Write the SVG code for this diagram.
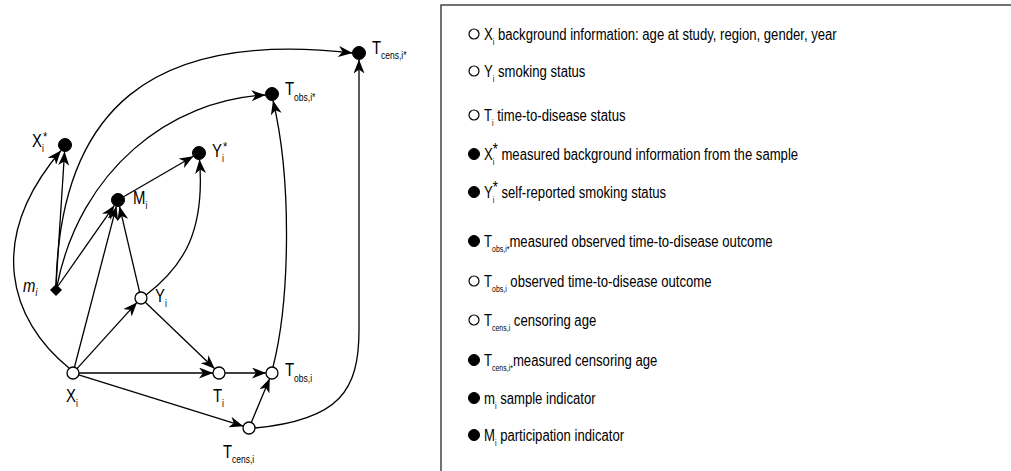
<svg xmlns="http://www.w3.org/2000/svg" width="1011" height="471" viewBox="0 0 1011 471">
<style>
.e{fill:none;stroke:#000;stroke-width:1.3;marker-end:url(#ah)}
.op{fill:#fff;stroke:#000;stroke-width:1.3}
.fl{fill:#000;stroke:#000;stroke-width:1}
.lbl{font-family:"Liberation Sans",Arial,sans-serif;font-size:17.5px;fill:#000}
.sub{font-size:10px}
.leg{font-family:"Liberation Sans",Arial,sans-serif;font-size:16px;fill:#000}
.ls{font-size:8.5px}
.lo{fill:#fff;stroke:#000;stroke-width:1.2}
</style>
<defs>
<marker id="ah" viewBox="0 0 14 11" refX="14" refY="5.5" markerWidth="14" markerHeight="11" markerUnits="userSpaceOnUse" orient="auto">
<path d="M0,0 L14,5.5 L0,11 L4,5.5 z" fill="#000"/>
</marker>
</defs>
<rect width="1011" height="471" fill="#fff"/>

<g id="connectors">
<path class="e" d="M69,368 C10,320 -15,240 61,150.5"/>
<path class="e" d="M56,285 L64.6,151.5"/>
<path class="e" d="M58,286 L114.4,205.4"/>
<path class="e" d="M57,286 C80,170 170,100 265.5,95"/>
<path class="e" d="M56,286 C60,110 150,30 352.5,53"/>
<path class="e" d="M74.5,367 L116.4,206.3"/>
<path class="e" d="M139.6,292.2 L119.5,206.3"/>
<path class="e" d="M123.6,196.7 L193.4,156.3"/>
<path class="e" d="M146,295 C185,265 205,230 199.5,159.5"/>
<path class="e" d="M77,368.6 L137,302.4"/>
<path class="e" d="M145.3,302.2 L214.7,368.8"/>
<path class="e" d="M79,373 L213,373"/>
<path class="e" d="M225,373 L266,373"/>
<path class="e" d="M78.7,374.8 L243.3,426.2"/>
<path class="e" d="M251.3,422.5 L269.7,378.5"/>
<path class="e" d="M273,367 C290,300 292,180 273,100.5"/>
<path class="e" d="M255,428 C340,420 359,390 359,330 L359,59.5"/>
</g>

<g id="node-Tcens-star">
<circle class="fl" cx="359" cy="53" r="6.5"/>
<text class="lbl" transform="translate(372,54) scale(0.85,1)">T<tspan class="sub" dy="5">cens,i*</tspan></text>
</g>
<g id="node-Tobs-star">
<circle class="fl" cx="272" cy="94" r="6.5"/>
<text class="lbl" transform="translate(285,95) scale(0.85,1)">T<tspan class="sub" dy="6">obs,i*</tspan></text>
</g>
<g id="node-X-star">
<circle class="fl" cx="65" cy="145" r="6.5"/>
<text class="lbl" transform="translate(32,147) scale(0.85,1)">X<tspan class="sub" dy="5">i</tspan><tspan style="font-size:13px" dy="-11" dx="-1">*</tspan></text>
</g>
<g id="node-Y-star">
<circle class="fl" cx="199" cy="153" r="6.5"/>
<text class="lbl" transform="translate(212,157) scale(0.85,1)">Y<tspan class="sub" dy="5">i</tspan><tspan style="font-size:13px" dy="-11" dx="-1">*</tspan></text>
</g>
<g id="node-M">
<circle class="fl" cx="118" cy="200" r="6.5"/>
<text class="lbl" transform="translate(133,204) scale(0.85,1)">M<tspan class="sub" dy="5">i</tspan></text>
</g>
<g id="node-m">
<polygon points="56,284 62,290 56,296 50,290" fill="#000"/>
<text class="lbl" transform="translate(23,292) scale(0.85,1)" font-style="italic">m<tspan class="sub" dy="4">i</tspan></text>
</g>
<g id="node-Y">
<circle class="op" cx="141" cy="298" r="6"/>
<text class="lbl" transform="translate(155,302) scale(0.85,1)">Y<tspan class="sub" dy="5">i</tspan></text>
</g>
<g id="node-X">
<circle class="op" cx="73" cy="373" r="6"/>
<text class="lbl" transform="translate(66,402) scale(0.85,1)">X<tspan class="sub" dy="5">i</tspan></text>
</g>
<g id="node-T">
<circle class="op" cx="219" cy="373" r="6"/>
<text class="lbl" transform="translate(213,402) scale(0.85,1)">T<tspan class="sub" dy="5">i</tspan></text>
</g>
<g id="node-Tobs">
<circle class="op" cx="272" cy="373" r="6"/>
<text class="lbl" transform="translate(285,376) scale(0.85,1)">T<tspan class="sub" dy="6">obs,i</tspan></text>
</g>
<g id="node-Tcens">
<circle class="op" cx="249" cy="428" r="6"/>
<text class="lbl" transform="translate(223,458) scale(0.85,1)">T<tspan class="sub" dy="5">cens,i</tspan></text>
</g>

<g id="legend">
<rect x="441" y="5" width="600" height="500" fill="none" stroke="#444" stroke-width="1.5"/>
<circle class="lo" cx="474" cy="34" r="5"/>
<text class="leg" transform="translate(484,40) scale(0.82,1)">X<tspan class="ls" dy="5">i</tspan><tspan dy="-5"> background information: age at study, region, gender, year</tspan></text>
<circle class="lo" cx="474" cy="71" r="5"/>
<text class="leg" transform="translate(484,77) scale(0.82,1)">Y<tspan class="ls" dy="5">i</tspan><tspan dy="-5"> smoking status</tspan></text>
<circle class="lo" cx="474" cy="115" r="5"/>
<text class="leg" transform="translate(484,121) scale(0.82,1)">T<tspan class="ls" dy="5">i</tspan><tspan dy="-5"> time-to-disease status</tspan></text>
<circle class="fl" cx="474" cy="154" r="5.5"/>
<text class="leg" transform="translate(484,160) scale(0.82,1)">X<tspan class="ls" dy="5">i</tspan><tspan dy="-10" dx="-2">*</tspan><tspan dy="5"> measured background information from the sample</tspan></text>
<circle class="fl" cx="474" cy="192" r="5.5"/>
<text class="leg" transform="translate(484,198) scale(0.82,1)">Y<tspan class="ls" dy="5">i</tspan><tspan dy="-10" dx="-2">*</tspan><tspan dy="5"> self-reported smoking status</tspan></text>
<circle class="fl" cx="474" cy="241" r="5.5"/>
<text class="leg" transform="translate(484,247) scale(0.82,1)">T<tspan class="ls" dy="5">obs,i*</tspan><tspan dy="-5">measured observed time-to-disease outcome</tspan></text>
<circle class="lo" cx="474" cy="281" r="5"/>
<text class="leg" transform="translate(484,287) scale(0.82,1)">T<tspan class="ls" dy="5">obs,i</tspan><tspan dy="-5"> observed time-to-disease outcome</tspan></text>
<circle class="lo" cx="474" cy="320" r="5"/>
<text class="leg" transform="translate(484,326) scale(0.82,1)">T<tspan class="ls" dy="5">cens,i</tspan><tspan dy="-5"> censoring age</tspan></text>
<circle class="fl" cx="474" cy="360" r="5.5"/>
<text class="leg" transform="translate(484,366) scale(0.82,1)">T<tspan class="ls" dy="5">cens,i*</tspan><tspan dy="-5">measured censoring age</tspan></text>
<circle class="fl" cx="474" cy="398" r="5.5"/>
<text class="leg" transform="translate(484,404) scale(0.82,1)">m<tspan class="ls" dy="5">i</tspan><tspan dy="-5"> sample indicator</tspan></text>
<circle class="fl" cx="474" cy="435" r="5.5"/>
<text class="leg" transform="translate(484,441) scale(0.82,1)">M<tspan class="ls" dy="5">i</tspan><tspan dy="-5"> participation indicator</tspan></text>
</g>
</svg>
